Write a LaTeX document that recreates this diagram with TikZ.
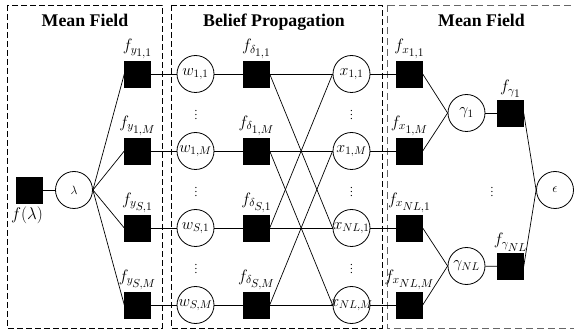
\RequirePackage{fix-cm}
\documentclass[tikz,border=0pt]{standalone}
\usepackage{fontspec}
\setmainfont{Liberation Serif}
\newcommand{\bigsub}[1]{{\scriptstyle #1}}
\pgfdeclarelayer{bg}
\pgfsetlayers{bg,main}
\begin{document}
\begin{tikzpicture}[x=1pt,y=-1pt,
  fac/.style={draw, fill=black, minimum size=26pt, inner sep=0pt},
  var/.style={draw, circle, line width=0.8pt, minimum size=37pt, inner sep=0pt},
  vtxt/.style={inner sep=0pt, font=\fontsize{16}{18}\selectfont},
  lab/.style={inner sep=0pt, anchor=south, font=\fontsize{16.5}{18}\selectfont},
  dots/.style={inner sep=0pt, font=\fontsize{11}{12}\selectfont},
  ttl/.style={anchor=base, inner sep=0pt, font=\fontsize{17.8}{20}\selectfont\bfseries},
  edge/.style={line width=0.7pt},
  box/.style={line width=0.8pt, dash pattern=on 6pt off 3pt},
  boxg/.style={line width=0.9pt, draw=black!60, dash pattern=on 7pt off 4pt}
]
\useasboundingbox (0,0) rectangle (574,334);
% boxes
\begin{pgfonlayer}{bg}
\draw[box] (7,5) rectangle (162,328);
\draw[box] (171,5) rectangle (382,328);
\draw[boxg] (387,5) rectangle (585,328);
\end{pgfonlayer}
% titles
\node[ttl] (t1) at (85,27) {Mean Field};
\node[ttl] (t2) at (274,27) {Belief Propagation};
\node[ttl] (t3) at (481.5,27) {Mean Field};
% left
\node[fac] (fl) at (29.5,190) {};
\node[inner sep=0pt, anchor=north, font=\fontsize{17}{19}\selectfont] (fll) at (27,207) {$f(\lambda)$};
\node[var] (lam) at (74,190) {};
\node[vtxt, font=\fontsize{12}{14}\selectfont] (lamt) at (lam) {$\lambda$};
% rows
\foreach \i/\y/\a/\b/\c in {1/74/{1,1}/{1,1}/{1,1}, 2/151/{1,M}/{1,M}/{1,M}, 3/228/{S,1}/{S,1}/{NL,1}, 4/305/{S,M}/{S,M}/{NL,M}}{
  \node[fac] (fy\i) at (137.5,\y) {};
  \node[lab] (fyl\i) at (137.5,\y-15) {$f_{y_{\bigsub{\a}}}$};
  \node[var] (w\i) at (195.5,\y) {};
  \node[vtxt] (wt\i) at (w\i) {$w_{\bigsub{\b}}$};
  \node[fac] (fd\i) at (256.5,\y) {};
  \node[lab] (fdl\i) at (256.5,\y-15) {$f_{\delta_{\bigsub{\b}}}$};
  \node[var] (x\i) at (351.5,\y) {};
  \node[vtxt] (xt\i) at (x\i) {$x_{\bigsub{\c}}$};
  \node[fac] (fx\i) at (409.5,\y) {};
  \node[lab] (fxl\i) at (409.5,\y-15) {$f_{x_{\bigsub{\c}}}$};
}
% dots
\foreach \j/\y in {1/112.5, 2/189.5, 3/266.5}{
  \node[dots] (dw\j) at (196,\y) {$\vdots$};
  \node[dots] (dx\j) at (351.5,\y) {$\vdots$};
}
\node[dots] (dg) at (492,189.5) {$\vdots$};
% right
\node[var] (g1) at (466.5,113) {};
\node[vtxt] (g1t) at (g1) {$\gamma_1$};
\node[var] (g2) at (466.5,266) {};
\node[vtxt] (g2t) at (g2) {$\gamma_{NL}$};
\node[fac] (fg1) at (510.5,113) {};
\node[lab] (fgl1) at (510.5,98) {$f_{\gamma_{\bigsub{1}}}$};
\node[fac] (fg2) at (510.5,266.5) {};
\node[lab] (fgl2) at (510.5,251.5) {$f_{\gamma_{\bigsub{NL}}}$};
\node[var] (eps) at (555,190) {};
\node[vtxt, font=\fontsize{13}{15}\selectfont] (epst) at (eps) {$\epsilon$};
% edges
\begin{pgfonlayer}{bg}
\draw[edge] (fl) -- (lam);
\foreach \i in {1,2,3,4}{
  \draw[edge] (lam.east) -- (fy\i.west);
  \draw[edge] (fy\i) -- (w\i);
  \draw[edge] (w\i) -- (fd\i);
  \draw[edge] (fd\i.east) -- (x\i.west);
  \draw[edge] (x\i) -- (fx\i);
}
\draw[edge] (fd1.east) -- (x3.west);
\draw[edge] (fd2.east) -- (x4.west);
\draw[edge] (fd3.east) -- (x1.west);
\draw[edge] (fd4.east) -- (x2.west);
\draw[edge] (fx1.east) -- (g1.west);
\draw[edge] (fx2.east) -- (g1.west);
\draw[edge] (fx3.east) -- (g2.west);
\draw[edge] (fx4.east) -- (g2.west);
\draw[edge] (g1) -- (fg1);
\draw[edge] (g2) -- (fg2);
\draw[edge] (fg1.east) -- (eps.west);
\draw[edge] (fg2.east) -- (eps.west);
\end{pgfonlayer}
\end{tikzpicture}
\end{document}
